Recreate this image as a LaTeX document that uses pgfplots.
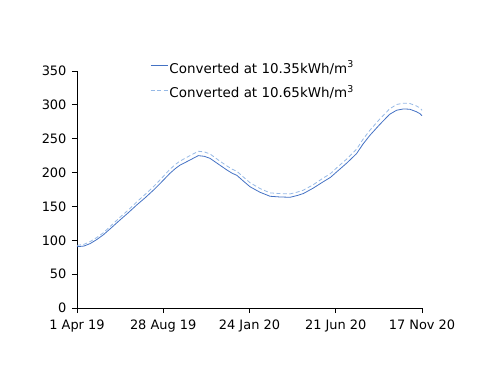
\documentclass[border=0pt]{standalone}
\usepackage{pgfplots}
\pgfplotsset{compat=1.18}
\usepackage{fontspec}
\setmainfont{DejaVu Sans}
\definecolor{solidblue}{RGB}{68,114,196}
\definecolor{dashblue}{RGB}{150,185,230}
\begin{document}
\begin{tikzpicture}
\path[use as bounding box] (-77bp,-78bp) rectangle (423bp,308bp);
\begin{axis}[
  at={(0,0)}, anchor=origin,
  scale only axis, width=345bp, height=237bp,
  xmin=0, xmax=596, ymin=0, ymax=350,
  axis x line*=bottom, axis y line*=left,
  axis line style={black, line width=0.8pt},
  xtick={0,149,298,447,596},
  xticklabels={1 Apr 19,28 Aug 19,24 Jan 20,21 Jun 20,17 Nov 20},
  ytick={0,50,...,350},
  tick align=outside, major tick length=5bp,
  tick style={black, line width=0.8pt},
  ticklabel style={font=\fontsize{13}{15}\selectfont},
  /pgf/number format/assume math mode=true,
  xticklabel style={yshift=-3bp},
  yticklabel style={xshift=-2bp},
  legend style={draw=none, fill=none, at={(0.2116,1.052)}, anchor=north west,
    font=\fontsize{13.5}{16}\selectfont, row sep=7bp,
    inner sep=0pt, nodes={inner xsep=1.5bp}},
  legend cell align=left,
  legend image code/.code={\draw[#1] (0bp,2bp) -- (17bp,2bp);},
  clip=false,
]
\addplot[solidblue, line width=0.8pt] coordinates {
(0,90.5) (12,91.5) (22.5,95) (34,101) (45.4,108) (60,119) (74.3,130) (89,141)
(103,152) (118,163) (132,174) (146,186) (160.7,199) (170,206) (178,211)
(194,218) (209.5,225) (220,224) (229.8,221) (245,212) (258.6,204) (268,199)
(276,196) (288,187) (299,179) (316,171) (333.4,165) (350,164) (368,163.5)
(380,166) (391,169) (408,177) (425.5,186.5) (438,193) (448.6,201) (466,214)
(483,228) (494,242) (506,255) (523,271) (540,286) (552,292) (564,294)
(575,293.5) (586,290) (592.5,287) (596,284)
};
\addlegendentry{Converted at 10.35kWh/m\textsuperscript{3}}
\addplot[dashblue, line width=0.8pt, dash pattern=on 4pt off 2.5pt] coordinates {
(0,92.5) (12,94) (22.5,98) (34,104) (45.4,111) (60,122.5) (74.3,134) (89,145)
(103,156.5) (118,168) (132,179) (146,191.5) (160.7,205) (170,212) (178,217)
(194,224.5) (209.5,231.5) (220,230.5) (229.8,227.5) (245,218) (258.6,210) (268,205)
(276,202) (288,193) (299,185) (316,176.5) (333.4,170) (350,169) (368,168.5)
(380,171) (391,174) (408,182) (425.5,192) (438,198.5) (448.6,207) (466,220)
(483,234.5) (494,249) (506,262.5) (523,279) (540,294) (552,300.5) (564,302.5)
(575,302) (586,298.5) (592.5,295.5) (596,292)
};
\addlegendentry{Converted at 10.65kWh/m\textsuperscript{3}}
\end{axis}
\end{tikzpicture}
\end{document}
